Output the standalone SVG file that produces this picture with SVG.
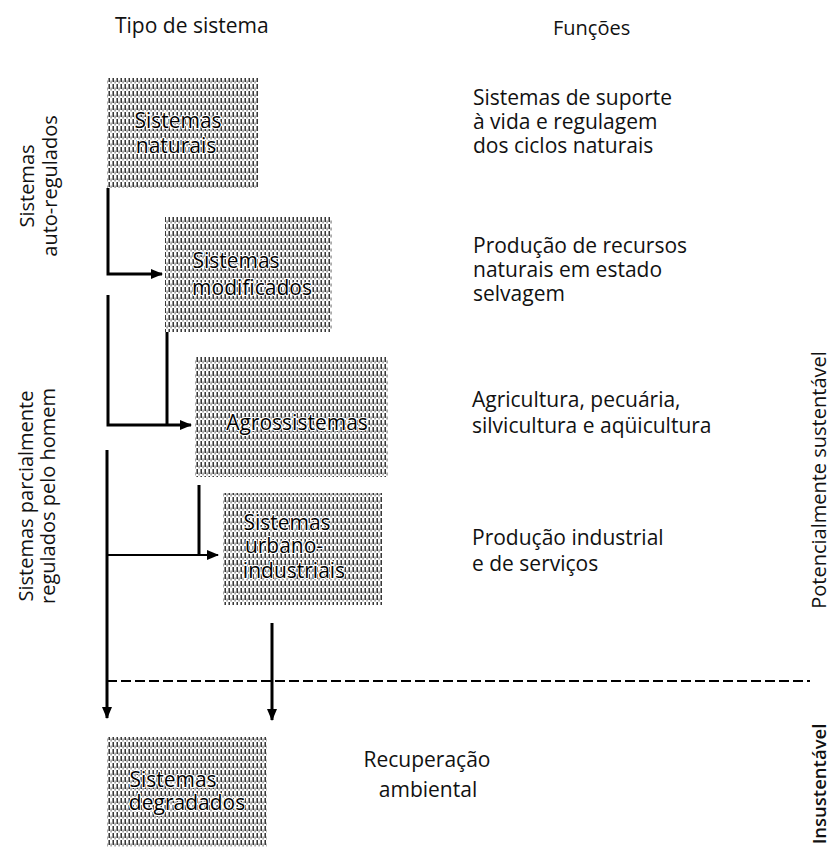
<svg xmlns="http://www.w3.org/2000/svg" width="836" height="848" viewBox="0 0 836 848">
<style>
text{font-family:"Open Sans","Noto Sans","Liberation Sans",sans-serif;font-size:21px;fill:#111}
.rot{font-size:20px}
.bt{fill:#000;stroke:#fff;stroke-width:2;paint-order:stroke;stroke-linejoin:round;font-size:21px}
.box{fill:url(#tex)}
.ln{stroke:#000;stroke-width:3;fill:none}
.bold{font-weight:600;font-size:18.5px}
</style>
<defs>
<pattern id="tex" width="4" height="7" patternUnits="userSpaceOnUse">
<rect width="4" height="7" fill="#fff"/>
<rect x="0.5" y="0" width="1.4" height="5" fill="#222"/>
<rect x="2.6" y="3.5" width="0.9" height="3" fill="#555"/>
</pattern>
<marker id="ah" markerWidth="12" markerHeight="10" refX="11" refY="5" orient="auto" markerUnits="userSpaceOnUse">
<path d="M0,0 L12,5 L0,10 Z" fill="#000"/>
</marker>
</defs>
<rect width="836" height="848" fill="#fff"/>

<text x="115" y="33">Tipo de sistema</text>
<text x="553" y="35" style="font-size:20px">Funções</text>

<text class="rot" transform="translate(34,186) rotate(-90)" text-anchor="middle">Sistemas</text>
<text class="rot" transform="translate(57,186) rotate(-90)" text-anchor="middle">auto-regulados</text>
<text class="rot" transform="translate(33,496) rotate(-90)" text-anchor="middle">Sistemas parcialmente</text>
<text class="rot" transform="translate(55,496) rotate(-90)" text-anchor="middle">regulados pelo homem</text>
<text class="rot" transform="translate(826,480) rotate(-90)" text-anchor="middle">Potencialmente sustentável</text>
<text class="rot bold" transform="translate(826,784) rotate(-90)" text-anchor="middle">Insustentável</text>

<g id="funcoes">
<text x="473" y="105">Sistemas de suporte</text>
<text x="473" y="129">à vida e regulagem</text>
<text x="473" y="153">dos ciclos naturais</text>
<text x="473" y="253">Produção de recursos</text>
<text x="473" y="277">naturais em estado</text>
<text x="473" y="301">selvagem</text>
<text x="472" y="407">Agricultura, pecuária,</text>
<text x="472" y="433">silvicultura e aqüicultura</text>
<text x="472" y="545">Produção industrial</text>
<text x="472" y="571">e de serviços</text>
<text x="427" y="767" text-anchor="middle">Recuperação</text>
<text x="428" y="797" text-anchor="middle">ambiental</text>
</g>

<g id="naturais">
<rect class="box" x="107" y="78" width="151" height="110"/>
<text class="bt" x="178" y="128" text-anchor="middle">Sistemas</text>
<text class="bt" x="176" y="153" text-anchor="middle">naturais</text>
</g>
<g id="modificados">
<rect class="box" x="165" y="217" width="167" height="115"/>
<text class="bt" x="236" y="268" text-anchor="middle">Sistemas</text>
<text class="bt" x="252" y="295" text-anchor="middle">modificados</text>
</g>
<g id="agrossistemas">
<rect class="box" x="195" y="357" width="193" height="120"/>
<text class="bt" x="297" y="430" text-anchor="middle">Agrossistemas</text>
</g>
<g id="urbano">
<rect class="box" x="223" y="493" width="159" height="112"/>
<text class="bt" x="287" y="530" text-anchor="middle">Sistemas</text>
<text class="bt" x="284" y="553" text-anchor="middle">urbano-</text>
<text class="bt" x="294" y="578" text-anchor="middle">industriais</text>
</g>
<g id="degradados">
<rect class="box" x="107" y="737" width="160" height="110"/>
<text class="bt" x="173" y="787" text-anchor="middle">Sistemas</text>
<text class="bt" x="187" y="810" text-anchor="middle">degradados</text>
</g>

<g id="connectors">
<path class="ln" d="M108,188 V274 H162" marker-end="url(#ah)"/>
<path class="ln" d="M108,295 V425 H191" marker-end="url(#ah)"/>
<path class="ln" d="M167,332 V425"/>
<path class="ln" d="M107,450 V718" marker-end="url(#ah)"/>
<path class="ln" d="M107,555 H218" marker-end="url(#ah)" style="stroke-width:2"/>
<path class="ln" d="M199,485 V555"/>
<path class="ln" d="M272,623 V720" marker-end="url(#ah)"/>
<path d="M107,681 H810" stroke="#000" stroke-width="2" stroke-dasharray="10 4" fill="none"/>
</g>
</svg>
